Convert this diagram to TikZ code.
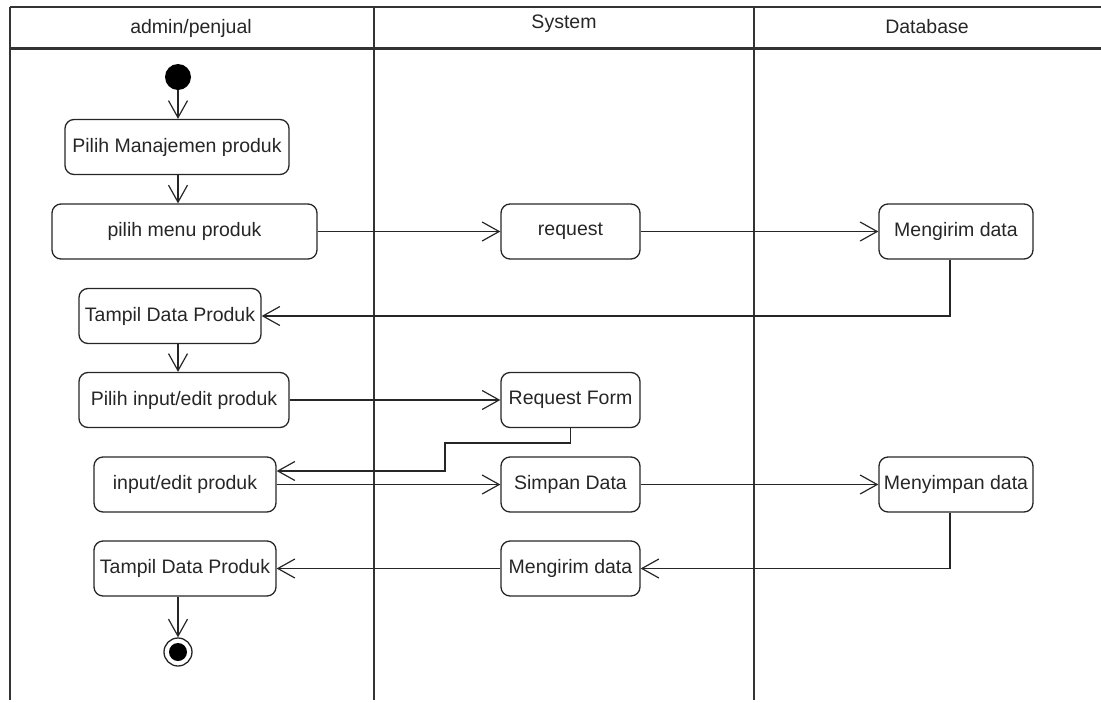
\documentclass[tikz,border=0pt]{standalone}
\usepackage{fontspec}
\setmainfont{Liberation Sans}
\usetikzlibrary{arrows.meta}

\tikzset{
    act/.style={draw=black!85,line width=1.3pt,rounded corners=9pt,
        minimum height=55pt,inner sep=1pt,text=black!85,
        font=\fontsize{19.5}{23}\selectfont},
    lanetitle/.style={text=black!85,font=\fontsize{19.5}{23}\selectfont},
    flow/.style={draw=black!85,line width=1.2pt,
        -{Straight Barb[length=17pt,width=19pt,line width=1.2pt]}},
    lane/.style={draw=black!80,line width=1.5pt},
}

\begin{document}
\begin{tikzpicture}[x=1pt,y=-1pt]
    \useasboundingbox (0,0) rectangle (1101,702);
    \draw[lane] (10,7) -- (1101,7);
    \draw[lane,line width=3pt] (10,48) -- (1101,48);
    \draw[lane,line width=2pt] (10,7) -- (10,700);
    \draw[lane] (374,7) -- (374,700);
    \draw[lane] (754,7) -- (754,700);
    \draw[lane,line width=2.6pt] (374,7) -- (374,48) (754,7) -- (754,48);
    \node[lanetitle] (lane1) at (191,28) {admin/penjual};
    \node[lanetitle] (lane2) at (564,24) {System};
    \node[lanetitle] (lane3) at (927,27) {Database};

    \node[circle,fill=black,minimum size=26pt,inner sep=0pt] (start) at (178,77) {};
    \node[act,minimum width=224pt] (pilihMan) at (177,147) {Pilih Manajemen produk};
    \node[act,minimum width=265pt] (menuProduk) at (184.5,231.5) {pilih menu produk};
    \node[act,minimum width=182pt] (tampil1) at (170,316) {Tampil Data Produk};
    \node[act,minimum width=210pt] (pilihInput) at (184,400) {Pilih input/edit produk};
    \node[act,minimum width=182pt] (inputEdit) at (185,484.5) {input/edit produk};
    \node[act,minimum width=182pt] (tampil2) at (185,568.5) {Tampil Data Produk};
    \node[circle,draw=black!85,line width=1.3pt,minimum size=28pt,inner sep=0pt] (stop) at (178,652) {};
    \fill (stop.center) circle[radius=9pt];

    \node[act,minimum width=139pt] (request) at (570.5,231.5) {request};
    \node[act,minimum width=139pt] (reqForm) at (570.5,400) {Request Form};
    \node[act,minimum width=139pt] (simpan) at (570.5,484.5) {Simpan Data};
    \node[act,minimum width=139pt] (kirimSys) at (570.5,568.5) {Mengirim data};

    \node[act,minimum width=154pt] (kirimDb) at (956,231.5) {Mengirim data};
    \node[act,minimum width=154pt] (menyimpan) at (956,484.5) {Menyimpan data};

    \coordinate (bendA) at (445,443);
    \coordinate (bendB) at (445,471);

    \draw[flow] (start.south) -- (start |- pilihMan.north);
    \draw[flow] (pilihMan.south -| start) -- (start |- menuProduk.north);
    \draw[flow] (menuProduk.east) -- (request.west);
    \draw[flow] (request.east) -- (kirimDb.west);
    \draw[flow] ([xshift=-6pt]kirimDb.south) |- (tampil1.east);
    \draw[flow] (tampil1.south -| start) -- (start |- pilihInput.north);
    \draw[flow] (pilihInput.east) -- (reqForm.west);
    \draw[flow] (reqForm.south) |- (bendA) -- (bendB) -- (bendB -| inputEdit.east);
    \draw[flow] (inputEdit.east) -- (simpan.west);
    \draw[flow] (simpan.east) -- (menyimpan.west);
    \draw[flow] ([xshift=-6pt]menyimpan.south) |- (kirimSys.east);
    \draw[flow] (kirimSys.west) -- (tampil2.east);
    \draw[flow] (tampil2.south -| stop) -- (stop.north);
\end{tikzpicture}
\end{document}
